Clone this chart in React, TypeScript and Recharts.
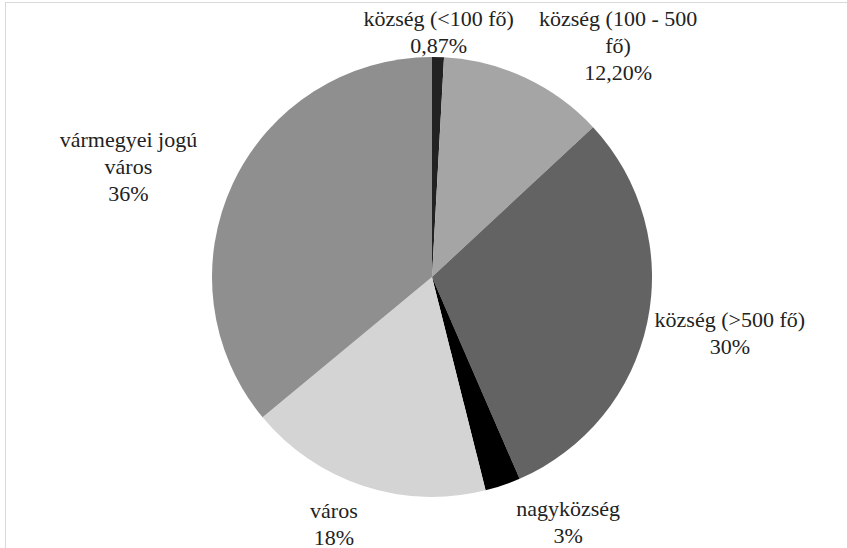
import { PieChart, Pie, Cell } from 'recharts';

const categories = [
  'község (<100 fő)',
  'község (100 - 500 fő)',
  'község (>500 fő)',
  'nagyközség',
  'város',
  'vármegyei jogú város',
];
const shares = [0.87, 12.2, 30.4, 2.6, 17.9, 36.0];
const shareLabels = ['0,87%', '12,20%', '30%', '3%', '18%', '36%'];

// label text wrapped the way the source chart wraps it
const labelLines = [
  ['község (<100 fő)', '0,87%'],
  ['község (100 - 500', 'fő)', '12,20%'],
  ['község (>500 fő)', '30%'],
  ['nagyközség', '3%'],
  ['város', '18%'],
  ['vármegyei jogú', 'város', '36%'],
];

const colors = ['#222222', '#a5a5a5', '#636363', '#000000', '#d4d4d4', '#8f8f8f'];

// radial distance from centre and clockwise angle shift (deg) for each label
const labelPlacement: Array<[number, number]> = [
  [245, 0],
  [297, 13.7],
  [303, -1.2],
  [280, -10.3],
  [266, 3.5],
  [323, -5.2],
];

const data = categories.map((name, i) => ({ name, value: shares[i], label: shareLabels[i] }));

const W = 847;
const H = 548;
const CX = 432;
const CY = 277;
const R = 220;
const RAD = Math.PI / 180;
const LINE_H = 27;
const BOX_W = 240;

const css = `
.slice-label, .slice-label * { font-family: 'Liberation Serif' !important; }
`;

// html layer on top of the pie, placed at each slice's middle angle
function SliceLabels() {
  const total = shares.reduce((s, v) => s + v, 0);
  let acc = 0;
  return (
    <>
      {shares.map((v, i) => {
        const mid = ((acc + v / 2) / total) * 360;
        acc += v;
        const [dist, shift] = labelPlacement[i];
        const t = (mid + shift) * RAD;
        const x = CX + dist * Math.sin(t);
        const y = CY - dist * Math.cos(t);
        const lines = labelLines[i];
        const h = lines.length * LINE_H;
        return (
          <div
            key={i}
            className="slice-label"
            style={{
              position: 'absolute',
              left: x - BOX_W / 2,
              top: y - h / 2,
              width: BOX_W,
              fontFamily: 'Liberation Serif',
              fontSize: 22,
              lineHeight: `${LINE_H}px`,
              color: '#222',
              textAlign: 'center',
              whiteSpace: 'nowrap',
            }}
          >
            {lines.map((l, j) => (
              <div key={j}>{l}</div>
            ))}
          </div>
        );
      })}
    </>
  );
}

export default function App() {
  return (
    <div
      style={{
        position: 'fixed',
        left: 0,
        top: 0,
        width: W,
        height: H,
        background: '#fff',
        overflow: 'hidden',
      }}
    >
      <style>{css}</style>
      <div
        style={{
          position: 'absolute',
          left: 5,
          top: 2,
          right: 0,
          bottom: 0,
          borderTop: '1px solid #d9d9d9',
          borderLeft: '1px solid #d9d9d9',
        }}
      />
      <div style={{ position: 'absolute', left: 0, top: 0 }}>
        <PieChart width={W} height={H} margin={{ top: 0, right: 0, bottom: 0, left: 0 }}>
          <Pie
            data={data}
            dataKey="value"
            nameKey="name"
            cx={CX}
            cy={CY}
            outerRadius={R}
            startAngle={90}
            endAngle={-270}
            stroke="none"
            labelLine={false}
            isAnimationActive={false}
          >
            {data.map((d, i) => (
              <Cell key={d.name} fill={colors[i]} />
            ))}
          </Pie>
        </PieChart>
      </div>
      <SliceLabels />
    </div>
  );
}
